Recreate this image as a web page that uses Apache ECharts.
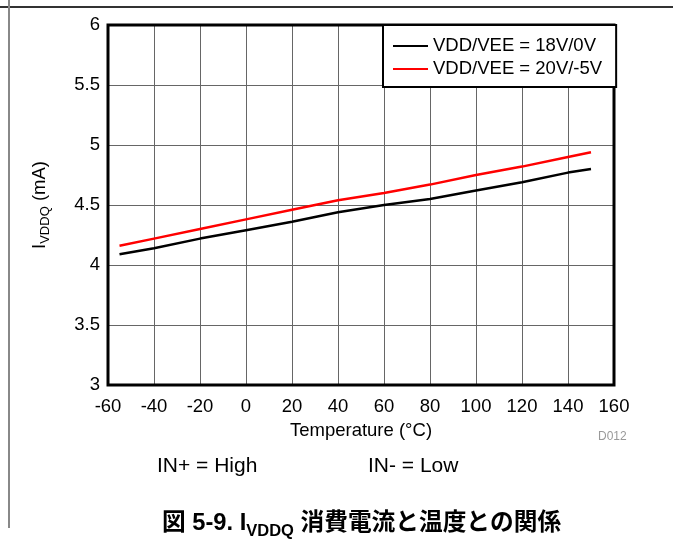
<!DOCTYPE html>
<html>
<head>
<meta charset="utf-8">
<script src="https://cdn.jsdelivr.net/npm/echarts@6/dist/echarts.min.js"></script>
<style>
html,body{margin:0;padding:0;background:#fff;}
#chart{width:673px;height:544px;}
</style>
</head>
<body>
<div id="chart"></div>
<script>
// ---- data ----
var temperatures = [-55, -40, -20, 0, 20, 40, 60, 80, 100, 120, 140, 150];
var iddq_18V_0V = [4.09, 4.14, 4.22, 4.29, 4.36, 4.44, 4.50, 4.55, 4.62, 4.69, 4.77, 4.80];
var iddq_20V_m5V = [4.16, 4.22, 4.30, 4.38, 4.46, 4.54, 4.60, 4.67, 4.75, 4.82, 4.90, 4.94];
var seriesNames = ['VDD/VEE = 18V/0V', 'VDD/VEE = 20V/-5V'];
var xTicks = { min: -60, max: 160, step: 20 };
var yTicks = { min: 3, max: 6, step: 0.5 };

function pairs(xs, ys) { return xs.map(function (x, i) { return [x, ys[i]]; }); }

var FONT = '"Liberation Sans", Arial, "Noto Sans CJK JP", sans-serif';
var chart = echarts.init(document.getElementById('chart'), null, { renderer: 'canvas' });

var option = {
  backgroundColor: '#fff',
  animation: false,
  textStyle: { fontFamily: FONT, color: '#000' },
  grid: { left: 108, right: 59, top: 25, bottom: 159, show: true, borderColor: '#000', borderWidth: 3, backgroundColor: 'transparent', z: 3 },
  legend: {
    orient: 'vertical',
    left: 383, top: 25,
    padding: [11, 14, 8, 10],
    itemGap: 3,
    itemWidth: 35, itemHeight: 2,
    icon: 'rect',
    backgroundColor: '#fff',
    borderColor: '#000', borderWidth: 2,
    textStyle: { fontSize: 18.5, fontFamily: FONT, color: '#000', lineHeight: 20 },
    data: [
      { name: seriesNames[0], itemStyle: { color: '#000' } },
      { name: seriesNames[1], itemStyle: { color: '#ff0000' } }
    ],
    z: 10
  },
  xAxis: {
    type: 'value', min: xTicks.min, max: xTicks.max, interval: xTicks.step,
    name: 'Temperature (°C)', nameLocation: 'middle', nameGap: 37,
    nameTextStyle: { fontSize: 18.5, fontFamily: FONT, color: '#000' },
    axisLine: { show: false }, axisTick: { show: false },
    axisLabel: { fontSize: 18.5, color: '#000', margin: 13, fontFamily: FONT },
    splitLine: { show: true, lineStyle: { color: '#666', width: 1 } }
  },
  yAxis: {
    type: 'value', min: yTicks.min, max: yTicks.max, interval: yTicks.step,
    name: '{m|I}{s|VDDQ}{m| (mA)}', nameLocation: 'middle', nameGap: 58,
    nameTextStyle: {
      fontFamily: FONT, color: '#000',
      rich: {
        m: { fontSize: 18.5, fontFamily: FONT, lineHeight: 21, color: '#000' },
        s: { fontSize: 13, fontFamily: FONT, lineHeight: 13, padding: [10, 0, 0, 0], verticalAlign: 'top', color: '#000' }
      }
    },
    axisLine: { show: false }, axisTick: { show: false },
    axisLabel: { fontSize: 18.5, color: '#000', margin: 8, fontFamily: FONT },
    splitLine: { show: true, lineStyle: { color: '#666', width: 1 } }
  },
  series: [
    { name: seriesNames[0], type: 'line', data: pairs(temperatures, iddq_18V_0V), symbol: 'none', smooth: false,
      lineStyle: { color: '#000', width: 2.5 }, itemStyle: { color: '#000' }, z: 5 },
    { name: seriesNames[1], type: 'line', data: pairs(temperatures, iddq_20V_m5V), symbol: 'none', smooth: false,
      lineStyle: { color: '#ff0000', width: 2.5 }, itemStyle: { color: '#ff0000' }, z: 5 }
  ],
  graphic: [
    { type: 'line', shape: { x1: 0, y1: 7, x2: 673, y2: 7 }, style: { stroke: '#333', lineWidth: 2 }, silent: true },
    { type: 'line', shape: { x1: 9, y1: 0, x2: 9, y2: 528 }, style: { stroke: '#888', lineWidth: 2 }, silent: true },
    { type: 'text', left: 598, top: 431, style: { text: 'D012', fontSize: 12, fontFamily: FONT, fill: '#999' }, silent: true },
    { type: 'text', left: 157, top: 456, style: { text: 'IN+ = High', fontSize: 21, fontFamily: FONT, fill: '#000' }, silent: true },
    { type: 'text', left: 368, top: 456, style: { text: 'IN- = Low', fontSize: 21, fontFamily: FONT, fill: '#000' }, silent: true },
    { type: 'text', left: 162, top: 510, silent: true,
      style: {
        text: '{b|図 5-9. I}{s|VDDQ}{b| 消費電流と温度との関係}',
        rich: {
          b: { fontSize: 23.7, fontWeight: 'bold', fontFamily: FONT, fill: '#000', lineHeight: 26 },
          s: { fontSize: 16.5, fontWeight: 'bold', fontFamily: FONT, fill: '#000', lineHeight: 16, padding: [13, 0, 0, 0], verticalAlign: 'top' }
        }
      }
    }
  ]
};
chart.setOption(option);
</script>
</body>
</html>
